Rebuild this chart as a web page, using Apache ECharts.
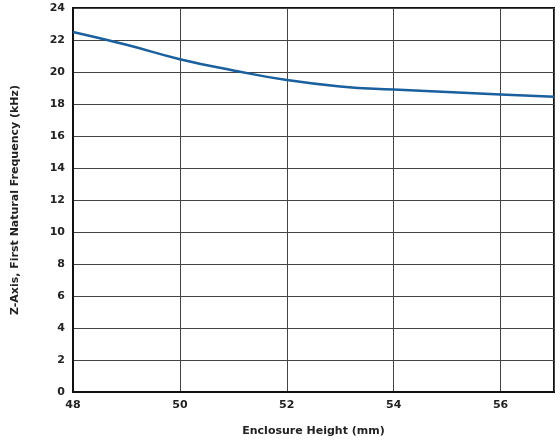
<!DOCTYPE html>
<html lang="en">
<head>
<meta charset="UTF-8">
<script src="https://cdn.jsdelivr.net/npm/echarts@6/dist/echarts.min.js"></script>
</head>
<body style="margin:0">
<div id="chart" style="width:560px;height:446px"></div>
<script>
var heights = [48, 49, 50, 51, 52, 53, 54, 55, 56, 57];
var freqs = [22.5, 21.7, 20.8, 20.1, 19.5, 19.1, 18.9, 18.75, 18.6, 18.45];

var chart = echarts.init(document.getElementById('chart'));
var labelStyle = { color: '#222', fontSize: 11, fontWeight: 'bold', fontFamily: 'DejaVu Sans' };
chart.setOption({
    animation: false,
    grid: { left: 73, right: 6, top: 8, bottom: 54, show: true, borderColor: '#111', borderWidth: 2 },
    xAxis: {
        type: 'value', min: 48, max: 57, interval: 2,
        name: 'Enclosure Height (mm)', nameLocation: 'middle', nameGap: 34,
        nameTextStyle: labelStyle,
        axisLabel: Object.assign({ showMaxLabel: false }, labelStyle),
        axisTick: { show: false },
        axisLine: { lineStyle: { color: '#111', width: 2 } },
        splitLine: { lineStyle: { color: '#444', width: 1 } }
    },
    yAxis: {
        type: 'value', min: 0, max: 24, interval: 2,
        name: 'Z-Axis, First Natural Frequency (kHz)', nameLocation: 'middle', nameGap: 52,
        nameTextStyle: labelStyle,
        axisLabel: labelStyle,
        axisTick: { show: false },
        axisLine: { lineStyle: { color: '#111', width: 2 } },
        splitLine: { lineStyle: { color: '#444', width: 1 } }
    },
    series: [{
        type: 'line', smooth: true, symbol: 'none',
        lineStyle: { color: '#1a5f9e', width: 2.5 },
        data: heights.map(function (h, i) { return [h, freqs[i]]; })
    }]
});
</script>
</body>
</html>
